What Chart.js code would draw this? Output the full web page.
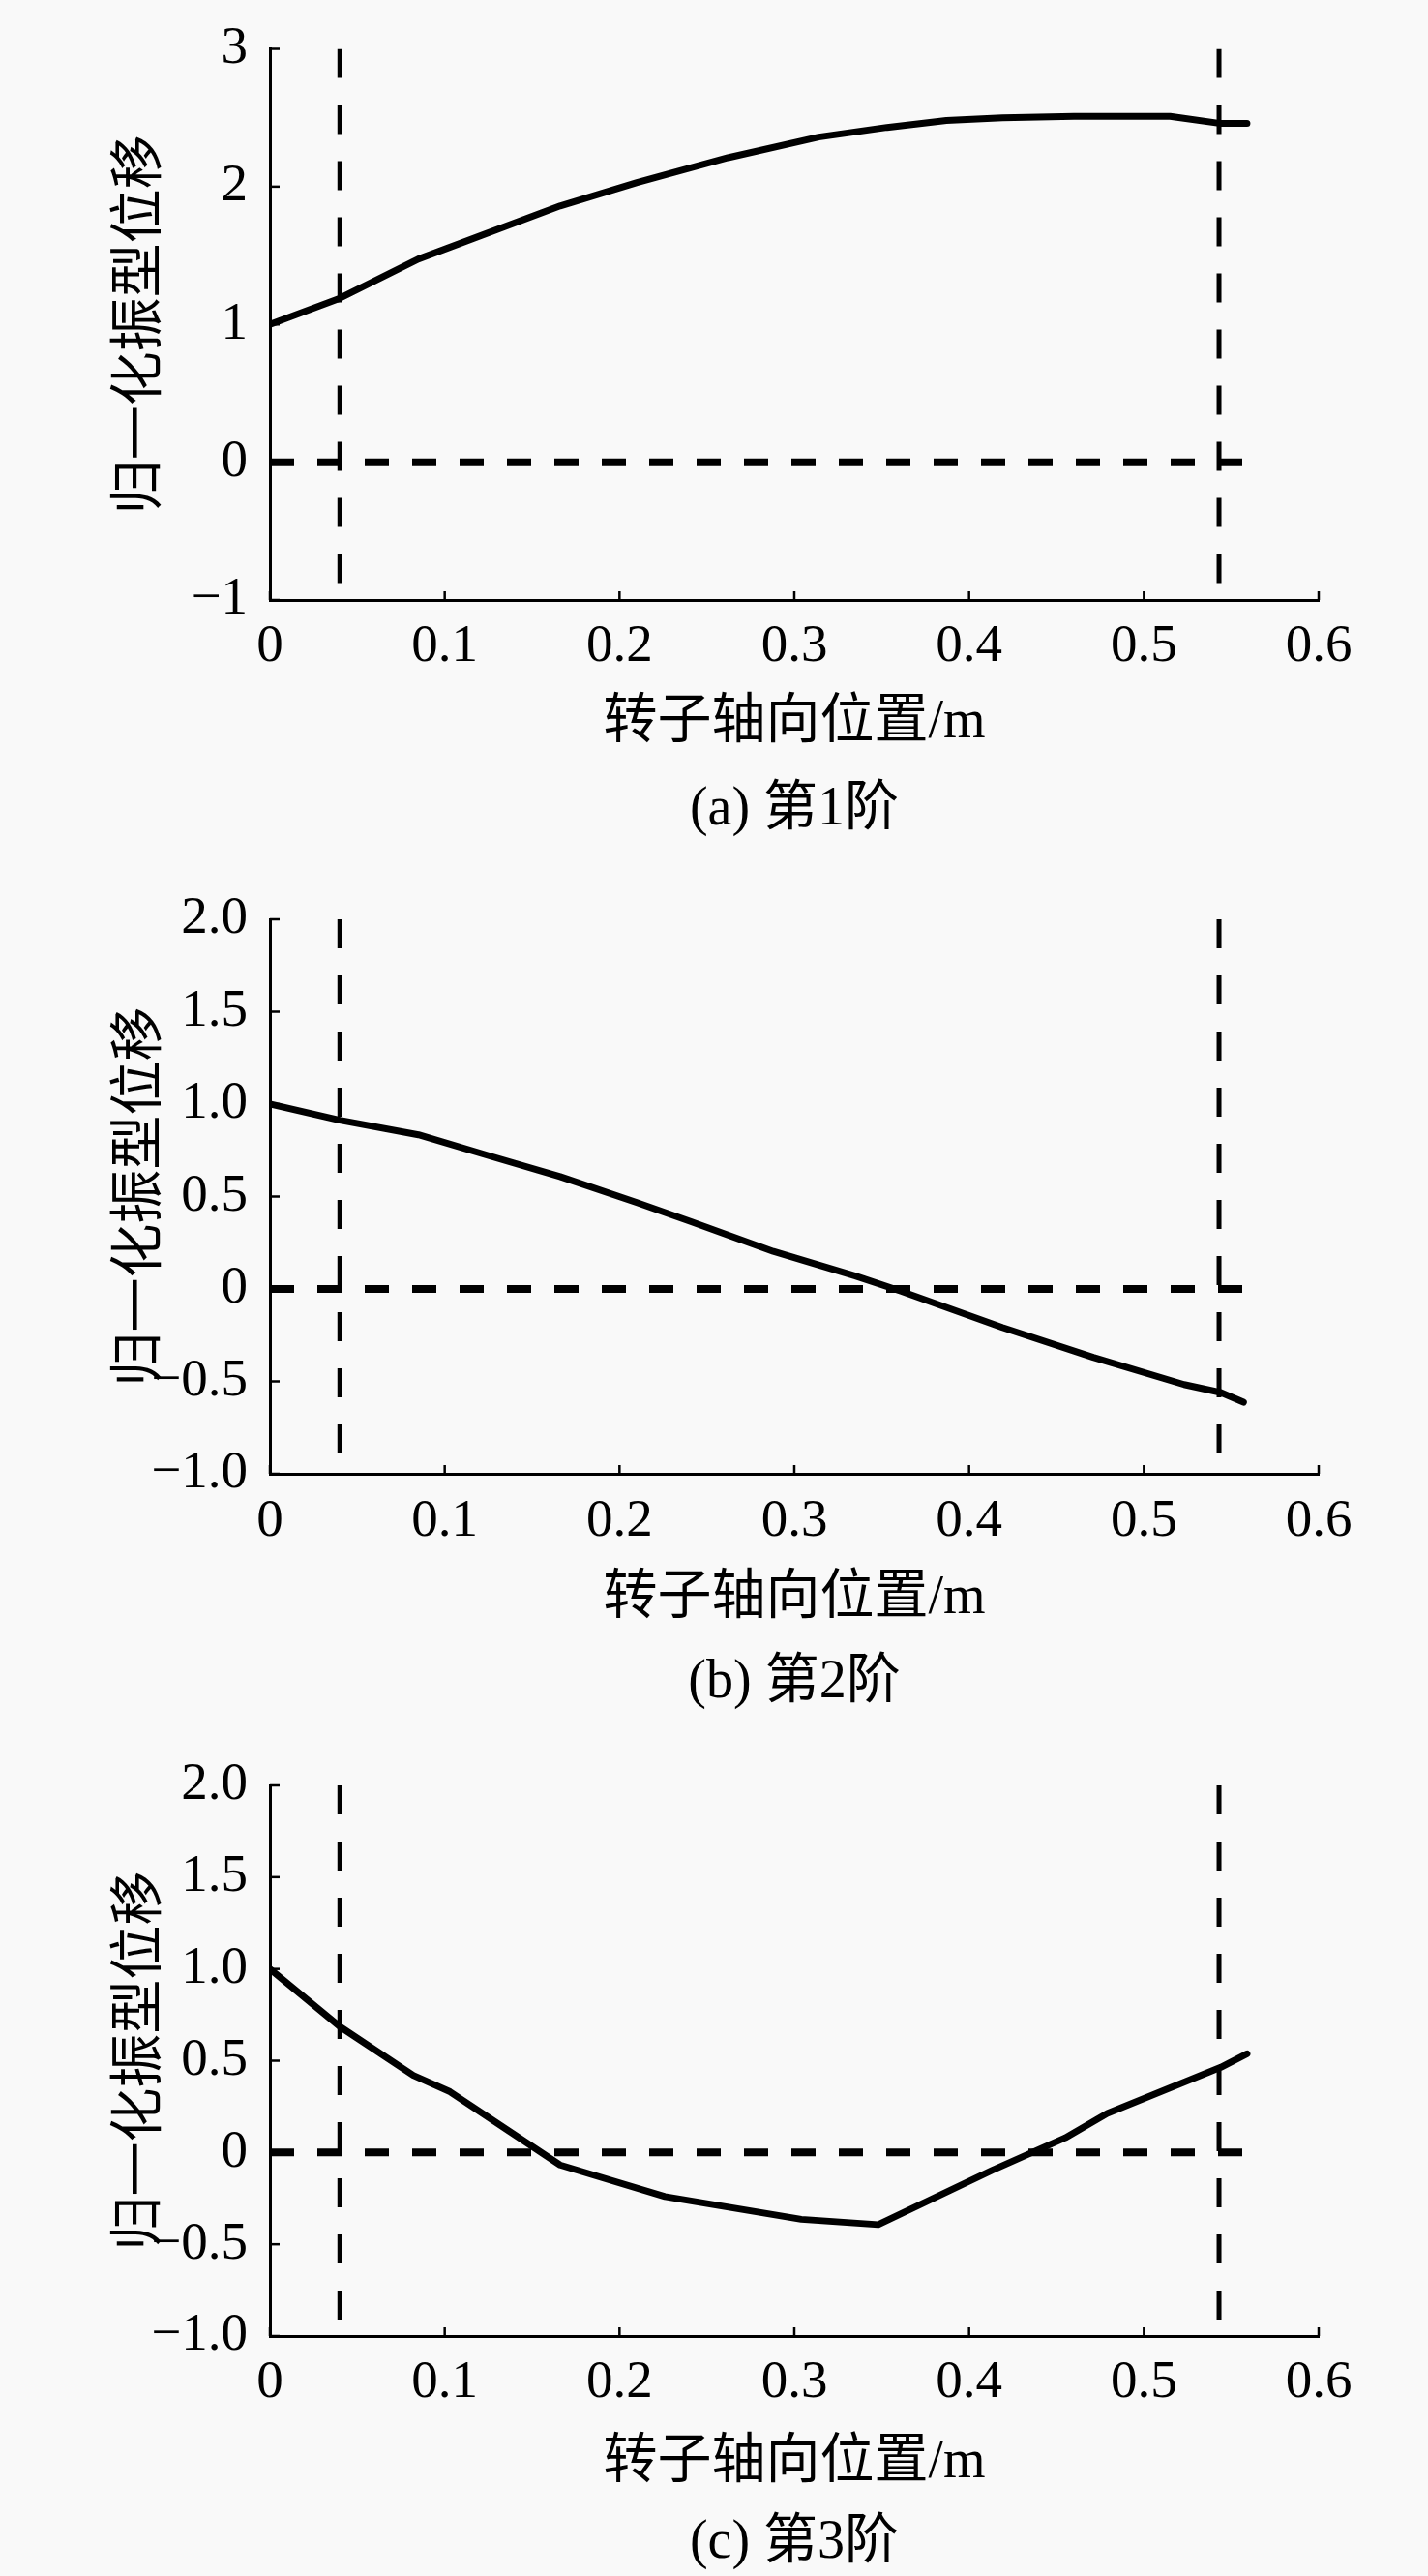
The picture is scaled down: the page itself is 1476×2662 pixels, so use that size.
<!DOCTYPE html>
<html>
<head>
<meta charset="utf-8">
<script src="https://cdn.jsdelivr.net/npm/chart.js@4.4.1/dist/chart.umd.min.js"></script>
<style>
html,body{margin:0;padding:0;background:#f9f9f9;}
body{width:1476px;height:2662px;position:relative;overflow:hidden;}
.box{position:absolute;left:0;width:1476px;}
.cap{position:absolute;left:0;width:1642px;text-align:center;font-family:"Liberation Serif","Noto Sans CJK SC",serif;font-size:56px;line-height:56px;color:#000;white-space:nowrap;}
</style>
</head>
<body>
<div class="box" id="boxA" style="top:0px;height:880px;"><canvas id="cA"></canvas></div>
<div class="box" id="boxB" style="top:880px;height:890px;"><canvas id="cB"></canvas></div>
<div class="box" id="boxC" style="top:1770px;height:892px;"><canvas id="cC"></canvas></div>
<div class="cap" style="top:805px;">(a) 第1阶</div>
<div class="cap" style="top:1707px;">(b) 第2阶</div>
<div class="cap" style="top:2596px;">(c) 第3阶</div>
<script>
// ---- data ----
const xTickValues = [0, 0.1, 0.2, 0.3, 0.4, 0.5, 0.6];
const xTickLabels = ['0', '0.1', '0.2', '0.3', '0.4', '0.5', '0.6'];
const yTickValuesA = [-1, 0, 1, 2, 3];
const yTickLabelsA = ['\u22121', '0', '1', '2', '3'];
const yTickValuesBC = [-1, -0.5, 0, 0.5, 1, 1.5, 2];
const yTickLabelsBC = ['\u22121.0', '\u22120.5', '0', '0.5', '1.0', '1.5', '2.0'];
const yRangeA = [-1, 3];
const yRangeBC = [-1, 2];
const xRange = [0, 0.6];
const bearingX = [0.04, 0.543];
const zeroLineX = [0, 0.557];

const posA  = [0, 0.04, 0.085, 0.166, 0.21, 0.262, 0.314, 0.353, 0.387, 0.419, 0.46, 0.515, 0.543, 0.559];
const modeA = [1.0, 1.19, 1.475, 1.86, 2.03, 2.21, 2.36, 2.43, 2.48, 2.50, 2.51, 2.51, 2.46, 2.46];

const posB  = [0, 0.04, 0.085, 0.127, 0.166, 0.21, 0.241, 0.288, 0.335, 0.361, 0.419, 0.471, 0.523, 0.544, 0.557];
const modeB = [1.0, 0.913, 0.834, 0.716, 0.608, 0.467, 0.364, 0.203, 0.07, -0.012, -0.208, -0.37, -0.517, -0.56, -0.613];

const posC  = [0, 0.04, 0.082, 0.103, 0.166, 0.226, 0.304, 0.348, 0.413, 0.455, 0.479, 0.544, 0.559];
const modeC = [1.0, 0.686, 0.42, 0.331, -0.068, -0.24, -0.364, -0.393, -0.098, 0.08, 0.213, 0.464, 0.538];

const xTitle = '转子轴向位置/m';
const yTitle = '归一化振型位移';

// ---- rendering ----
Chart.defaults.font.family = '"Liberation Serif","Noto Sans CJK SC",serif';
Chart.defaults.color = '#000';

const innerTicks = {
  id: 'innerTicks',
  afterDraw(chart, args, o) {
    const {ctx, chartArea} = chart;
    const xs = chart.scales.x, ys = chart.scales.y;
    ctx.save();
    ctx.strokeStyle = '#000';
    ctx.lineWidth = 2.5;
    o.xTicks.forEach(v => {
      const p = xs.getPixelForValue(v);
      ctx.beginPath(); ctx.moveTo(p, chartArea.bottom); ctx.lineTo(p, chartArea.bottom - 9); ctx.stroke();
    });
    o.yTicks.forEach(v => {
      const p = ys.getPixelForValue(v);
      ctx.beginPath(); ctx.moveTo(chartArea.left, p); ctx.lineTo(chartArea.left + 10, p); ctx.stroke();
    });
    ctx.restore();
  }
};

function makeChart(id, pos, mode, yRange, yVals, yLabels, g) {
  const curve = pos.map((x, i) => ({x: x, y: mode[i]}));
  const datasets = [
    {data: [{x: zeroLineX[0], y: 0}, {x: zeroLineX[1], y: 0}], borderColor: '#000', borderWidth: 8, borderDash: [25, 24], pointRadius: 0, borderCapStyle: 'butt'},
    {data: [{x: bearingX[0], y: yRange[1]}, {x: bearingX[0], y: yRange[0]}], borderColor: '#000', borderWidth: 5, borderDash: [30, 28], pointRadius: 0},
    {data: [{x: bearingX[1], y: yRange[1]}, {x: bearingX[1], y: yRange[0]}], borderColor: '#000', borderWidth: 5, borderDash: [30, 28], pointRadius: 0},
    {data: curve, borderColor: '#000', borderWidth: 7, pointRadius: 0, tension: 0, borderJoinStyle: 'round', borderCapStyle: 'round'}
  ];
  return new Chart(document.getElementById(id), {
    type: 'line',
    data: {datasets: datasets},
    options: {
      devicePixelRatio: 1,
      responsive: true,
      maintainAspectRatio: false,
      animation: false,
      events: [],
      layout: {padding: {left: 0, right: 113, top: g.top, bottom: 0}},
      plugins: {legend: {display: false}, tooltip: {enabled: false}, innerTicks: {xTicks: xTickValues, yTicks: yVals}},
      scales: {
        x: {
          type: 'linear', min: xRange[0], max: xRange[1],
          grid: {display: false, drawTicks: false},
          border: {display: true, color: '#000', width: 3},
          ticks: {stepSize: 0.1, autoSkip: false, maxRotation: 0, padding: g.xpad,
                  font: {size: 55, lineHeight: 1},
                  callback: (v, i) => xTickLabels[i]},
          title: {display: true, text: xTitle, font: {size: 56, lineHeight: 1}, padding: {top: 0, bottom: g.tb}},
          afterFit: s => { s.height = g.xh; }
        },
        y: {
          type: 'linear', min: yRange[0], max: yRange[1],
          grid: {display: false, drawTicks: false},
          border: {display: true, color: '#000', width: 3},
          ticks: {stepSize: yVals[1] - yVals[0], autoSkip: false, padding: 23,
                  font: {size: 55, lineHeight: 1},
                  callback: (v, i) => yLabels[i]},
          title: {display: true, text: yTitle, font: {size: 56, lineHeight: 1}, padding: {top: 118, bottom: 0}},
          afterFit: s => { s.width = 279; }
        }
      }
    },
    plugins: [innerTicks]
  });
}

makeChart('cA', posA, modeA, yRangeA, yTickValuesA, yTickLabelsA, {top: 31, xh: 260, xpad: 21.5, tb: 105});
makeChart('cB', posB, modeB, yRangeBC, yTickValuesBC, yTickLabelsBC, {top: 70, xh: 247, xpad: 22.5, tb: 90});
makeChart('cC', posC, modeC, yRangeBC, yTickValuesBC, yTickLabelsBC, {top: 75, xh: 248, xpad: 21.5, tb: 89});
</script>
</body>
</html>
